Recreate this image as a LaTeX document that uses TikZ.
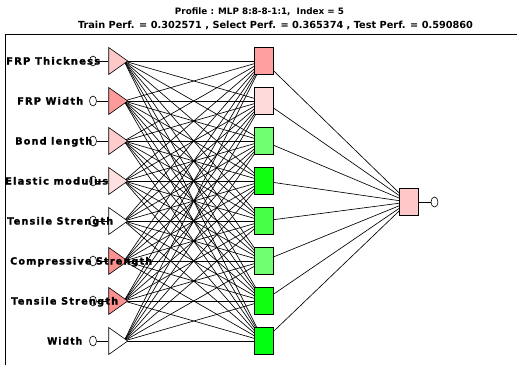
\documentclass[tikz,border=0pt]{standalone}
\usepackage{fontspec}
\setmainfont{DejaVu Sans}
\newfontfamily\labfont{DejaVu Sans}[LetterSpace=12,FakeBold=1.5]
\usetikzlibrary{shapes.geometric}
\definecolor{pkA}{HTML}{FFC8C8}
\definecolor{pkB}{HTML}{FF9A9A}
\definecolor{pkC}{HTML}{FFCCCC}
\definecolor{pkD}{HTML}{FFE0E0}
\definecolor{pkE}{HTML}{FF9090}
\definecolor{hA}{HTML}{FFA0A0}
\definecolor{hB}{HTML}{FFDADA}
\definecolor{gA}{HTML}{70FF70}
\definecolor{gB}{HTML}{10FF10}
\definecolor{gC}{HTML}{48FF48}
\definecolor{gD}{HTML}{00FF10}
\newcommand{\lab}[2]{\resizebox{#1pt}{7.5pt}{\labfont\bfseries #2}}
\begin{document}
\begin{tikzpicture}[x=1pt,y=-1pt,
  conn/.style={black,line width=0.65pt},
  intri/.style={draw=black,line width=0.6pt,shape=isosceles triangle,isosceles triangle stretches,
     minimum width=27pt,minimum height=19pt,inner sep=0pt,shape border rotate=0},
  hid/.style={draw=black,line width=0.7pt,rectangle,minimum width=19pt,minimum height=27pt,inner sep=0pt},
  port/.style={draw=black,line width=0.6pt,fill=white,ellipse,minimum width=7pt,minimum height=10pt,inner sep=0pt},
  lbl/.style={anchor=base west,inner sep=0pt},
  ttl/.style={inner sep=0pt}]
\useasboundingbox (0,0) rectangle (517,368);
% frame
\draw[line width=0.8pt] (5,365) -- (5,34.5) -- (517,34.5);
% titles
\node[ttl] (t1) at (259.5,12) {\resizebox{169pt}{!}{\bfseries Profile : MLP 8:8-8-1:1,\ \ Index = 5}};
\node[ttl] (t2) at (275.5,25) {\resizebox{395pt}{!}{\bfseries Train Perf. = 0.302571 , Select Perf. = 0.365374 , Test Perf. = 0.590860}};
% sources and hidden centres
\foreach \i in {1,...,8}{
  \coordinate (s\i) at (124,{61+40*(\i-1)});
  \coordinate (hc\i) at (263.5,{61+40*(\i-1)});
}
\coordinate (oc) at (408.5,202);
% connections input -> hidden
\foreach \i in {1,...,8}{
  \foreach \j in {1,...,8}{
    \draw[conn] (s\i) -- (hc\j);
  }
  \draw[conn] (hc\i) -- (oc);
}
% input circles
\foreach \i in {1,...,8}{
  \node[port] (c\i) at (93,{61+40*(\i-1)}) {};
}
% input triangles
\foreach \i/\col in {1/pkA,2/pkB,3/pkC,4/pkD,5/white,6/pkE,7/pkE,8/white}{
  \node[intri,fill=\col,anchor=apex] (in\i) at (128.5,{61+40*(\i-1)}) {};
  \draw[conn] (c\i.east) -- (in\i.west);
}
% hidden nodes
\foreach \i/\col in {1/hA,2/hB,3/gA,4/gB,5/gC,6/gA,7/gB,8/gD}{
  \node[hid,fill=\col] (h\i) at (hc\i) {};
}
% output
\node[hid,fill=pkA] (out) at (oc) {};
\node[port] (oport) at (434.5,202) {};
\draw[conn] (out.east) -- (oport.west);
% labels
\node[lbl] (l1) at (6,64.5) {\lab{94}{FRP Thickness}};
\node[lbl] (l2) at (17,104.5) {\lab{66}{FRP Width}};
\node[lbl] (l3) at (15,144.5) {\lab{77}{Bond length}};
\node[lbl] (l4) at (5,184.5) {\lab{103}{Elastic modulus}};
\node[lbl] (l5) at (7,224.5) {\lab{106}{Tensile Strength}};
\node[lbl] (l6) at (10,264.5) {\lab{142}{Compressive Strength}};
\node[lbl] (l7) at (11,304.5) {\lab{107}{Tensile Strength}};
\node[lbl] (l8) at (47,344.5) {\lab{35}{Width}};
\end{tikzpicture}
\end{document}
